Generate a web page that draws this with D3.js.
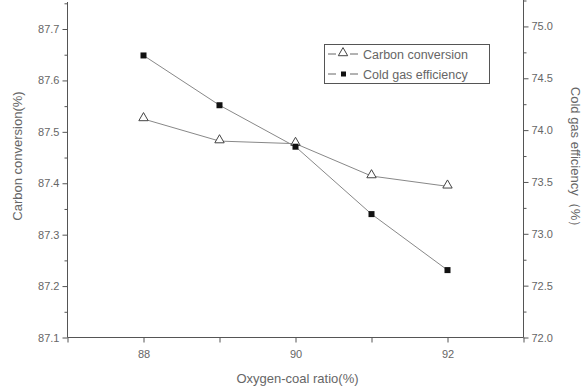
<!DOCTYPE html>
<html><head><meta charset="utf-8">
<script src="https://cdn.jsdelivr.net/npm/d3@7"></script>
<style>body{margin:0;background:#fff;} svg{display:block;}</style>
</head><body>
<svg id="c" width="586" height="389"></svg>
<script>
const xValues = [88, 89, 90, 91, 92];
const carbonConversion = [87.525, 87.482, 87.477, 87.414, 87.394];
const coldGasEfficiency = [74.72, 74.24, 73.84, 73.19, 72.65];
const xTicks = [88, 90, 92];
const leftTicks = [87.1, 87.2, 87.3, 87.4, 87.5, 87.6, 87.7];
const rightTicks = [72.0, 72.5, 73.0, 73.5, 74.0, 74.5, 75.0];
const seriesNames = ["Carbon conversion", "Cold gas efficiency"];

const svg = d3.select("#c");
const L = 67.5, R = 523.5, T = 2, B = 337.5;
const x = d3.scaleLinear().domain([87, 93]).range([L, R]);
const yL = d3.scaleLinear().domain([87.1, 87.75]).range([B, 3.3]);
const yR = d3.scaleLinear().domain([72, 75.25]).range([B, 0.5]);
const axisCol = "#555", textCol = "#666", font = "Liberation Sans, Arial, sans-serif";

function style(g){
  g.select(".domain").remove();
  g.selectAll(".tick line").attr("stroke", axisCol);
  g.selectAll(".tick text").attr("fill", textCol).style("font-family", font).style("font-size", "11px");
}
svg.append("line").attr("x1", L).attr("x2", L).attr("y1", T).attr("y2", B).attr("stroke", axisCol);
svg.append("line").attr("x1", R).attr("x2", R).attr("y1", 0).attr("y2", B).attr("stroke", axisCol);
svg.append("line").attr("x1", L).attr("x2", R).attr("y1", B).attr("y2", B).attr("stroke", axisCol);

svg.append("g").attr("transform", `translate(0,${B})`)
  .call(d3.axisBottom(x).tickValues(d3.range(87, 93.01, 1)).tickSize(5).tickFormat(d => xTicks.includes(d) ? d : ""))
  .call(style).call(g => g.selectAll(".tick text").attr("dy", "1.1em"));
svg.append("g").attr("transform", `translate(${L},0)`)
  .call(d3.axisLeft(yL).tickValues(leftTicks).tickSize(5).tickFormat(d => d.toFixed(1)))
  .call(style);
svg.append("g").attr("transform", `translate(${L},0)`)
  .call(d3.axisLeft(yL).tickValues(leftTicks.map(v => v + 0.05)).tickSize(3).tickFormat(""))
  .call(style);
svg.append("g").attr("transform", `translate(${R},0)`)
  .call(d3.axisRight(yR).tickValues(rightTicks).tickSize(5).tickFormat(d => d.toFixed(1)))
  .call(style);
svg.append("g").attr("transform", `translate(${R},0)`)
  .call(d3.axisRight(yR).tickValues(rightTicks.map(v => v + 0.25)).tickSize(3).tickFormat(""))
  .call(style);

svg.append("text").attr("x", (L + R) / 2 + 2).attr("y", 383).attr("text-anchor", "middle")
  .attr("fill", textCol).style("font-family", font).style("font-size", "13px").text("Oxygen-coal ratio(%)");
svg.append("text").attr("transform", "translate(22,156) rotate(-90)").attr("text-anchor", "middle")
  .attr("fill", textCol).style("font-family", font).style("font-size", "13px").text("Carbon conversion(%)");
svg.append("text").attr("transform", "translate(571,160) rotate(90)").attr("text-anchor", "middle")
  .attr("fill", textCol).style("font-family", font).style("font-size", "13px").text("Cold gas efficiency（%）");

const lineCol = "#888";
const data1 = xValues.map((v, i) => [v, carbonConversion[i]]);
const data2 = xValues.map((v, i) => [v, coldGasEfficiency[i]]);
svg.append("path").datum(data1).attr("fill", "none").attr("stroke", lineCol).attr("stroke-width", 1)
  .attr("d", d3.line().x(d => x(d[0])).y(d => yL(d[1])));
svg.append("path").datum(data2).attr("fill", "none").attr("stroke", lineCol).attr("stroke-width", 1)
  .attr("d", d3.line().x(d => x(d[0])).y(d => yR(d[1])));
const tri = d3.symbol().type(d3.symbolTriangle).size(38);
svg.selectAll(".tri").data(data1).join("path")
  .attr("transform", d => `translate(${x(d[0])},${yL(d[1]) - 1})`).attr("d", tri())
  .attr("fill", "#fff").attr("stroke", "#444").attr("stroke-width", 1);
svg.selectAll(".sq").data(data2).join("rect")
  .attr("x", d => x(d[0]) - 3).attr("y", d => yR(d[1]) - 3).attr("width", 6).attr("height", 6).attr("fill", "#111");

const lg = svg.append("g");
lg.append("rect").attr("x", 324.5).attr("y", 44.5).attr("width", 165).attr("height", 39).attr("fill", "#fff").attr("stroke", "#555");
const rows = [54, 74];
rows.forEach((yy, i) => {
  lg.append("line").attr("x1", 328).attr("x2", 336).attr("y1", yy).attr("y2", yy).attr("stroke", "#666");
  lg.append("line").attr("x1", 350).attr("x2", 358).attr("y1", yy).attr("y2", yy).attr("stroke", "#666");
  if (i === 0) lg.append("path").attr("transform", `translate(343,${yy - 1})`).attr("d", tri()).attr("fill", "#fff").attr("stroke", "#444");
  else lg.append("rect").attr("x", 341).attr("y", yy - 2.5).attr("width", 5).attr("height", 5).attr("fill", "#111");
  lg.append("text").attr("x", 363).attr("y", yy + 4.5).attr("fill", textCol).style("font-family", font).style("font-size", "12.5px").text(seriesNames[i]);
});
</script>
</body></html>
